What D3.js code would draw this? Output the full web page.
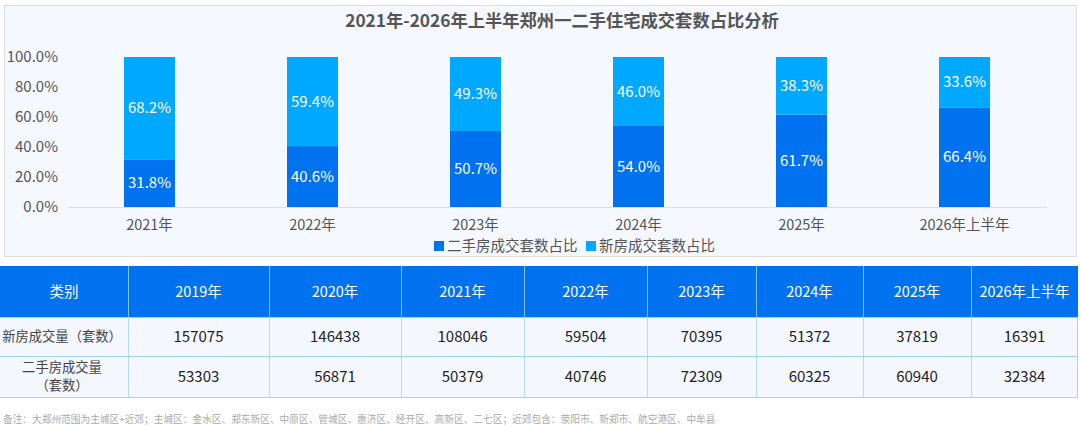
<!DOCTYPE html>
<html>
<head>
<meta charset="utf-8">
<title>郑州一二手住宅成交套数占比</title>
<script src="https://cdn.jsdelivr.net/npm/d3@7"></script>
<style>
  body { margin: 0; background: #fff; }
  svg text { font-family: "Noto Sans CJK SC", "Noto Sans", sans-serif; }
</style>
</head>
<body>
<div id="chart"></div>
<script>
// chart data
var years = ["2021年", "2022年", "2023年", "2024年", "2025年", "2026年上半年"];
var secondShare = [31.8, 40.6, 50.7, 54.0, 61.7, 66.4];
var newShare = [68.2, 59.4, 49.3, 46.0, 38.3, 33.6];
var yTicks = [0, 20, 40, 60, 80, 100];
var seriesNames = ["二手房成交套数占比", "新房成交套数占比"];

// table data
var tableHead = "类别";
var tableYears = ["2019年", "2020年", "2021年", "2022年", "2023年", "2024年", "2025年", "2026年上半年"];
var rowNames = [["新房成交量（套数）"], ["二手房成交量", "（套数）"]];
var newVolume = [157075, 146438, 108046, 59504, 70395, 51372, 37819, 16391];
var secondVolume = [53303, 56871, 50379, 40746, 72309, 60325, 60940, 32384];

var note = "备注：大郑州范围为主城区+近郊；主城区：金水区、郑东新区、中原区、管城区、惠济区、经开区、高新区、二七区；近郊包含：荥阳市、新郑市、航空港区、中牟县";

var W = 1080, H = 428;
var darkBlue = "#0072f0", lightBlue = "#00a8ff";

var svg = d3.select("#chart").append("svg")
    .attr("width", W)
    .attr("height", H);

// chart panel
svg.append("rect")
    .attr("x", 4.5).attr("y", 5.5)
    .attr("width", 1072).attr("height", 251)
    .attr("fill", "#f5f8fe")
    .attr("stroke", "#d9dde5");

svg.append("text")
    .attr("x", 562).attr("y", 21)
    .attr("dy", "0.35em")
    .attr("text-anchor", "middle")
    .style("font-size", "17.3px")
    .style("font-weight", "bold")
    .attr("fill", "#555")
    .text("2021年-2026年上半年郑州一二手住宅成交套数占比分析");

var x = d3.scaleBand().domain(years).range([68, 1046]).paddingInner(0.687).paddingOuter(0.3435);
var y = d3.scaleLinear().domain([0, 100]).range([207, 57]);

var yAxis = svg.append("g")
    .attr("transform", "translate(62,0)")
    .call(d3.axisLeft(y).tickValues(yTicks).tickSize(0).tickPadding(4)
        .tickFormat(function(d) { return d.toFixed(1) + "%"; }));
yAxis.select(".domain").remove();
yAxis.selectAll("text").attr("fill", "#555").style("font-size", "15px");

var xAxis = svg.append("g")
    .attr("transform", "translate(0,207)")
    .call(d3.axisBottom(x).tickSize(0).tickPadding(13));
xAxis.select(".domain").attr("stroke", "#dcdfe6");
xAxis.selectAll("text").attr("fill", "#555").style("font-size", "14.5px");

// stacked bars
var stacked = years.map(function(d, i) {
    return [
        { year: d, y0: 0, y1: secondShare[i], color: darkBlue },
        { year: d, y0: secondShare[i], y1: secondShare[i] + newShare[i], color: lightBlue }
    ];
});
var segs = [].concat.apply([], stacked);

svg.append("g").selectAll("rect").data(segs).enter().append("rect")
    .attr("x", function(d) { return x(d.year); })
    .attr("y", function(d) { return y(Math.min(d.y1, 100)); })
    .attr("width", x.bandwidth())
    .attr("height", function(d) { return y(d.y0) - y(Math.min(d.y1, 100)); })
    .attr("fill", function(d) { return d.color; });

svg.append("g").selectAll("text").data(segs).enter().append("text")
    .attr("x", function(d) { return x(d.year) + x.bandwidth() / 2; })
    .attr("y", function(d) { return y((d.y0 + Math.min(d.y1, 100)) / 2); })
    .attr("dy", "0.35em")
    .attr("text-anchor", "middle")
    .attr("fill", "#fff")
    .style("font-size", "15px")
    .text(function(d) { return (d.y1 - d.y0).toFixed(1) + "%"; });

// legend
var legend = svg.append("g").attr("transform", "translate(434,246)");
var legendX = [0, 152];
seriesNames.forEach(function(name, i) {
    var g = legend.append("g").attr("transform", "translate(" + legendX[i] + ",0)");
    g.append("rect").attr("x", 0).attr("y", -5).attr("width", 10).attr("height", 10)
        .attr("fill", i === 0 ? darkBlue : lightBlue);
    g.append("text").attr("x", 13).attr("dy", "0.35em")
        .attr("fill", "#555").style("font-size", "14.5px").text(name);
});

// table
var colEdges = [0, 128, 269, 401, 524, 647, 756, 863, 971, 1078];
var rowEdges = [266, 317, 356, 397];
var borderColor = "#9fd4f2";
var tableW = colEdges[colEdges.length - 1];

var table = svg.append("g");
table.append("rect")
    .attr("x", 0).attr("y", rowEdges[0])
    .attr("width", tableW).attr("height", rowEdges[1] - rowEdges[0])
    .attr("fill", darkBlue);
table.append("rect")
    .attr("x", 0).attr("y", rowEdges[1])
    .attr("width", tableW).attr("height", rowEdges[3] - rowEdges[1])
    .attr("fill", "#f4f7fd");

// grid lines
table.selectAll("line.v").data(colEdges.slice(1, -1)).enter().append("line")
    .attr("x1", function(d) { return d + 0.5; }).attr("x2", function(d) { return d + 0.5; })
    .attr("y1", rowEdges[0]).attr("y2", rowEdges[3])
    .attr("stroke", borderColor)
    .attr("stroke-opacity", 0.8);
table.selectAll("line.h").data(rowEdges.slice(1)).enter().append("line")
    .attr("x1", 0).attr("x2", tableW)
    .attr("y1", function(d) { return d + 0.5; }).attr("y2", function(d) { return d + 0.5; })
    .attr("stroke", borderColor);
table.append("line")
    .attr("x1", tableW - 0.5).attr("x2", tableW - 0.5)
    .attr("y1", rowEdges[1]).attr("y2", rowEdges[3])
    .attr("stroke", borderColor);

function colMid(i) { return (colEdges[i] + colEdges[i + 1]) / 2; }
function rowMid(i) { return (rowEdges[i] + rowEdges[i + 1]) / 2; }

var headCells = [tableHead].concat(tableYears);
table.selectAll("text.head").data(headCells).enter().append("text")
    .attr("x", function(d, i) { return colMid(i); })
    .attr("y", rowMid(0))
    .attr("dy", "0.35em")
    .attr("text-anchor", "middle")
    .attr("fill", "#fff")
    .style("font-size", "14.5px")
    .text(function(d) { return d; });

[newVolume, secondVolume].forEach(function(vals, r) {
    var lines = rowNames[r];
    var t = table.append("text")
        .attr("x", colMid(0) - 2)
        .attr("y", rowMid(r + 1) - (lines.length - 1) * 9)
        .attr("text-anchor", "middle")
        .attr("fill", "#444")
        .style("font-size", "13.3px");
    lines.forEach(function(l, k) {
        t.append("tspan").attr("x", colMid(0) - 2).attr("dy", k === 0 ? "0.35em" : "18").text(l);
    });
    table.selectAll(null).data(vals).enter().append("text")
        .attr("x", function(d, i) { return colMid(i + 1); })
        .attr("y", rowMid(r + 1))
        .attr("dy", "0.35em")
        .attr("text-anchor", "middle")
        .attr("fill", "#222")
        .style("font-size", "15px")
        .text(function(d) { return d; });
});

svg.append("text")
    .attr("x", 3).attr("y", 420)
    .attr("dy", "0.35em")
    .attr("fill", "#aaa")
    .style("font-size", "9.7px")
    .text(note);
</script>
</body>
</html>
